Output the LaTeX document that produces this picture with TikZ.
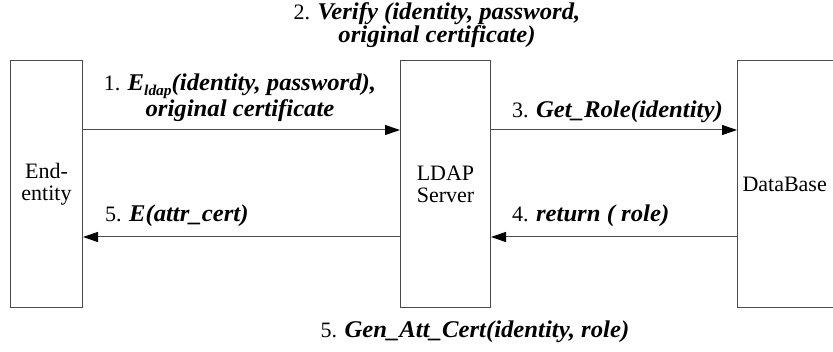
\documentclass[tikz,border=0pt]{standalone}
\usepackage{fontspec}
\usepackage{graphicx}
\setmainfont{Liberation Serif}
\usetikzlibrary{arrows.meta}
% bold italic message text, set a little larger and wider than the plain text
\newcommand\bi[1]{{\fontsize{24}{22}\selectfont\bfseries\itshape\scalebox{1.03}[1]{#1}}}
\begin{document}
\begin{tikzpicture}[x=1pt,y=-1pt,
  every node/.style={font=\fontsize{22}{22}\selectfont},
  actor/.style={draw=black!70, line width=1pt, inner sep=0pt, anchor=north west, align=center},
  msg/.style={draw=black!70, line width=1pt, -{Triangle[length=15pt,width=10pt,color=black]}},
  lbl/.style={inner sep=0pt, align=center}]
  \useasboundingbox (0,0) rectangle (833,352);
  \clip (0,0) rectangle (833,352);

  % participants
  \node[actor, minimum width=72pt, minimum height=247pt] (ee) at (10,60) {End-\\entity};
  \node[actor, minimum width=90pt, minimum height=247pt] (ldap) at (400,60) {LDAP\\Server};
  \node[actor, minimum width=130pt, minimum height=247pt, text width=125pt,
        align=left, inner xsep=5pt] (db) at (737,60) {DataBase};

  % message rows
  \coordinate (upper) at (0,130);
  \coordinate (lower) at (0,237);

  \draw[msg] (ee.east |- upper) -- (ldap.west |- upper);
  \draw[msg] (ldap.east |- upper) -- (db.west |- upper);
  \draw[msg] (db.west |- lower) -- (ldap.east |- lower);
  \draw[msg] (ldap.west |- lower) -- (ee.east |- lower);

  % labels (base anchor of a two-line label sits on its last line)
  \node[lbl, anchor=base] (m1) at (240,117)
    {1. \bi{E\raisebox{-5pt}{\fontsize{15}{15}\selectfont ldap}(identity, password),}\\\bi{original certificate}};
  \node[lbl, anchor=base] (m2) at (437,43)
    {2. \bi{Verify (identity, password,}\\\bi{original certificate)}};
  \node[lbl, anchor=base west] (m3) at (512,118) {3. \bi{Get\_Role(identity)}};
  \node[lbl, anchor=base west] (m4) at (512,222) {4. \bi{return ( role)}};
  \node[lbl, anchor=base west] (m5) at (105,222) {5. \bi{E(attr\_cert)}};
  \node[lbl, anchor=base] (m6) at (475,338) {5. \bi{Gen\_Att\_Cert(identity, role)}};
\end{tikzpicture}
\end{document}
